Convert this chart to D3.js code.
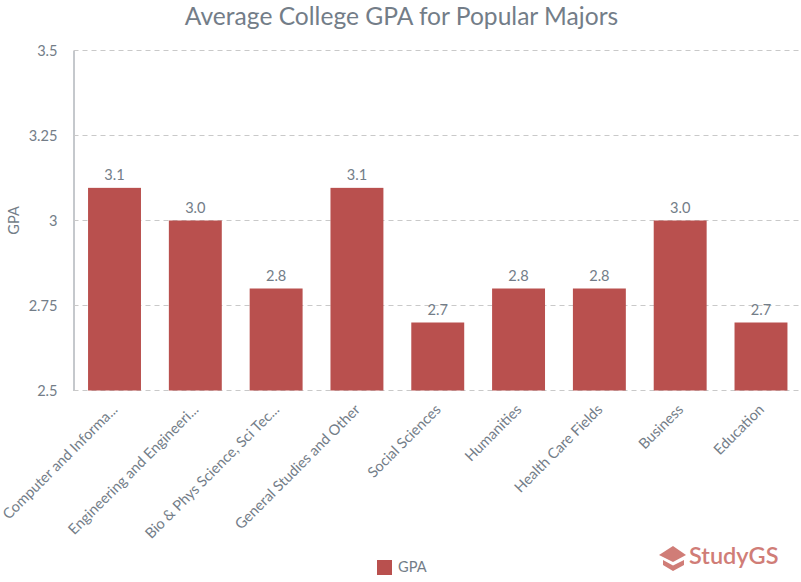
<!DOCTYPE html>
<html><head><meta charset="utf-8">
<script src="https://cdn.jsdelivr.net/npm/d3@7/dist/d3.min.js"></script>
<style>html,body{margin:0;padding:0;background:#fff}svg{display:block}text{font-family:Lato,sans-serif}</style>
</head><body><svg id="c" width="801" height="582"></svg>
<script>
const categories = ["Computer and Informa...","Engineering and Engineeri...","Bio & Phys Science, Sci Tec...","General Studies and Other","Social Sciences","Humanities","Health Care Fields","Business","Education"];
const gpaValues = [3.096,3.0,2.8,3.096,2.7,2.8,2.8,3.0,2.7];
const yTicks = [2.5,2.75,3,3.25,3.5];
const titleText = "Average College GPA for Popular Majors";
const yLabel = "GPA";
const ink = "#737d88", barColor = "#b9504e", grid = "#c9c9c9";

const svg = d3.select("#c");
const x = d3.scaleBand().domain(categories).range([73.5,802]).paddingInner(0.345).paddingOuter(0.18);
const y = d3.scaleLinear().domain([2.5,3.5]).range([390.5,50.5]);

svg.append("text").attr("x",401.5).attr("y",25).attr("text-anchor","middle").attr("font-size",24.6).attr("fill",ink).text(titleText);

const yAxis = d3.axisLeft(y).tickValues(yTicks).tickFormat(d=>String(d)).tickSize(0).tickPadding(16);
const ga = svg.append("g").attr("transform","translate(73.5,0)").call(yAxis);
ga.select(".domain").attr("stroke","#8b929a").attr("stroke-width",1);
ga.selectAll("text").attr("font-size",14.6).attr("fill",ink).attr("font-family","Lato");

svg.append("g").selectAll("line").data(yTicks).join("line")
 .attr("x1",73.5).attr("x2",801).attr("y1",d=>y(d)).attr("y2",d=>y(d))
 .attr("stroke",grid).attr("stroke-width",1).attr("stroke-dasharray","5,4");

svg.append("g").selectAll("rect").data(gpaValues).join("rect")
 .attr("x",(d,i)=>x(categories[i])).attr("width",x.bandwidth())
 .attr("y",d=>y(d)).attr("height",d=>y(2.5)-y(d)).attr("fill",barColor);

svg.append("g").selectAll("text").data(gpaValues).join("text")
 .attr("x",(d,i)=>x(categories[i])+x.bandwidth()/2).attr("y",d=>y(d)-7.5)
 .attr("text-anchor","middle").attr("font-size",14.6).attr("fill",ink).text(d=>d.toFixed(1));

const xa = d3.axisBottom(x).tickSize(0).tickPadding(0);
const gx = svg.append("g").attr("transform","translate(0,390.5)").call(xa);
gx.select(".domain").remove();
gx.selectAll("text").attr("font-size",14.6).attr("fill",ink).attr("font-family","Lato")
 .attr("text-anchor","end").attr("dy",null)
 .attr("transform","translate(4,20) rotate(-45)");

svg.append("text").attr("transform","translate(19,220.5) rotate(-90)").attr("text-anchor","middle").attr("font-size",14.6).attr("fill",ink).text(yLabel);

svg.append("rect").attr("x",377).attr("y",560).attr("width",15).attr("height",15).attr("fill",barColor);
svg.append("text").attr("x",398).attr("y",572).attr("font-size",14.6).attr("fill",ink).text(yLabel);

const logo = svg.append("g").attr("fill","#d07d77");
logo.append("path").attr("d","M659 555 L673 546 L686 555 L673 562 Z");
logo.append("path").attr("d","M663 560 L673 565.5 L684 560 L684 565 L673 571 L663 565 Z");
logo.append("text").attr("x",689).attr("y",564).attr("font-size",23.5).attr("font-weight",600).attr("font-family","'Open Sans',sans-serif").attr("fill","#d07d77").text("StudyGS");
</script></body></html>
